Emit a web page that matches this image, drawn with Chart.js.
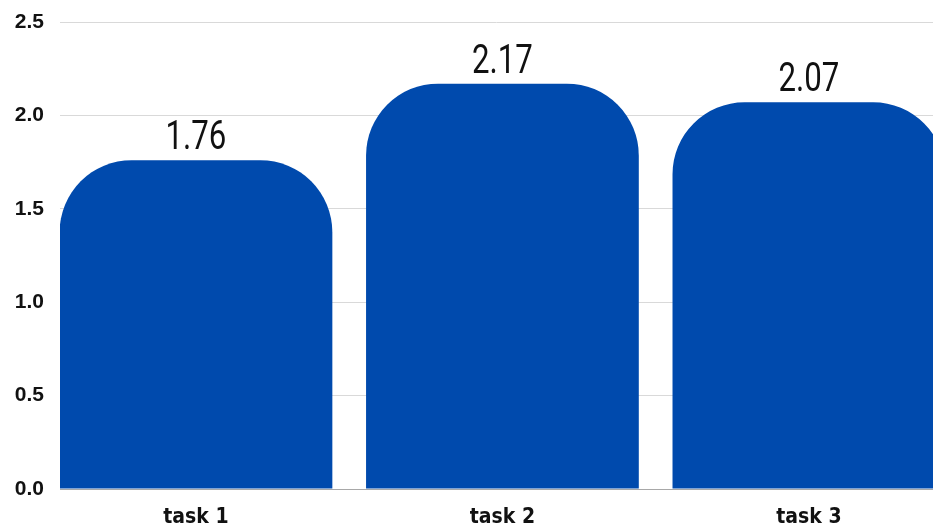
<!DOCTYPE html>
<html>
<head>
<meta charset="utf-8">
<script src="https://cdn.jsdelivr.net/npm/chart.js@4.4.1/dist/chart.umd.min.js"></script>
<style>
  html, body { margin: 0; padding: 0; background: #fff; }
  #wrap { width: 933px; height: 531px; position: relative; overflow: hidden; }
</style>
</head>
<body>
<div id="wrap"><canvas id="chart"></canvas></div>
<script>
// data
const tasks = ['task 1', 'task 2', 'task 3'];
const scores = [1.76, 2.17, 2.07];
const yTicks = [0, 0.5, 1.0, 1.5, 2.0, 2.5];

// waarde boven elke balk tekenen (smal, dun lettertype)
const valueLabels = {
    id: 'valueLabels',
    afterDatasetsDraw(chart) {
        const ctx = chart.ctx;
        const meta = chart.getDatasetMeta(0);
        meta.data.forEach((bar, i) => {
            ctx.save();
            ctx.font = '40px Roboto, "DejaVu Sans Condensed", sans-serif';
            ctx.fillStyle = '#111';
            ctx.textAlign = 'center';
            ctx.textBaseline = 'alphabetic';
            ctx.translate(bar.x, bar.y - 11);
            ctx.scale(0.78, 1);
            ctx.fillText(scores[i].toFixed(2), 0, 0);
            ctx.restore();
        });
    }
};

const ctx = document.getElementById('chart').getContext('2d');
new Chart(ctx, {
    type: 'bar',
    data: {
        datasets: [{
            data: scores.map((v, i) => ({ x: i, y: v })),
            backgroundColor: '#004AAD',
            borderRadius: 72,
            borderSkipped: 'bottom',
            barPercentage: 0.89,
            categoryPercentage: 1,
        }],
    },
    options: {
        responsive: true,
        maintainAspectRatio: false,
        animation: false,
        layout: { padding: { top: 22, right: 0, left: 0, bottom: 0 } },
        plugins: {
            legend: { display: false },
            tooltip: { enabled: false },
        },
        scales: {
            x: {
                type: 'linear',
                offset: false,
                min: -0.4437,
                max: 2.405,
                grid: { display: false, offset: false },
                border: { display: true, color: '#a8a8a8', width: 1 },
                afterFit(scale) { scale.height = 42; },
                ticks: {
                    stepSize: 1,
                    includeBounds: false,
                    autoSkip: false,
                    maxRotation: 0,
                    padding: 8,
                    color: '#111',
                    font: { family: '"DejaVu Sans Condensed", sans-serif', size: 21, weight: 'bold' },
                    callback: (v) => tasks[v] ?? '',
                },
            },
            y: {
                min: 0,
                max: 2.5,
                afterFit(scale) {
                    scale.width = 60;
                    scale.paddingTop = 0;
                    scale.paddingBottom = 0;
                },
                afterBuildTicks(scale) { scale.ticks = yTicks.map(v => ({ value: v })); },
                grid: { color: '#d9d9d9', drawTicks: false },
                border: { display: false },
                ticks: {
                    padding: 16,
                    color: '#111',
                    font: { family: '"Liberation Sans", sans-serif', size: 21, weight: 'bold' },
                    callback: (v) => v.toFixed(1),
                },
            },
        },
    },
    plugins: [valueLabels],
});
</script>
</body>
</html>
